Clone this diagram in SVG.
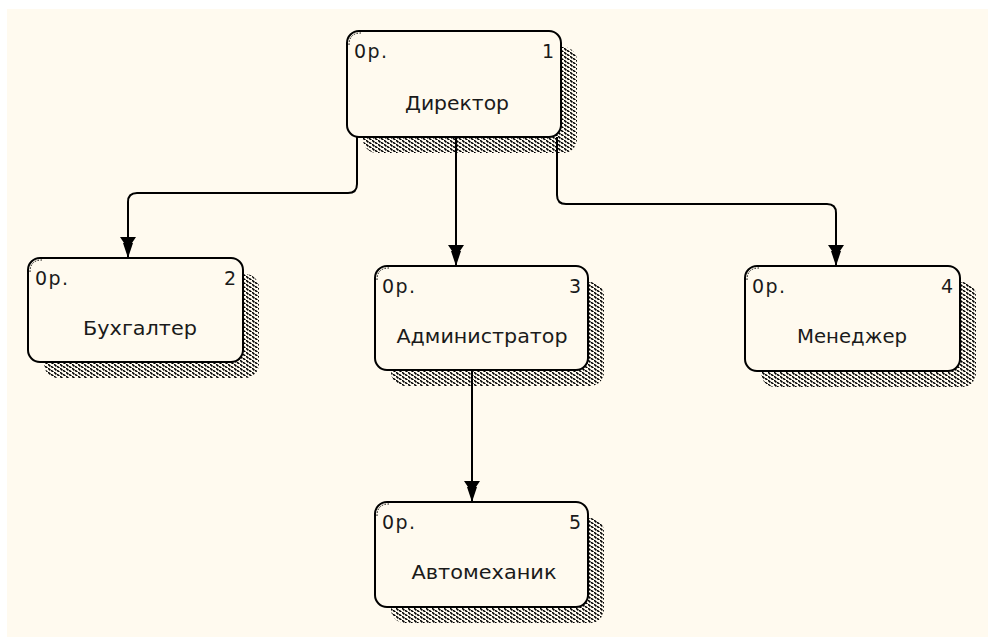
<svg xmlns="http://www.w3.org/2000/svg" width="988" height="638" viewBox="0 0 988 638">
  <style>
    .box { fill: #FFFAEF; stroke: #000; stroke-width: 2; }
    .shadow { fill: url(#hatch); }
    .tag { fill: none; stroke: #000; stroke-width: 1; stroke-dasharray: 1.5 1.5; }
    .lbl { font-family: "DejaVu Sans", "Liberation Sans", Arial, sans-serif; font-size: 19px; fill: #1a1a1a; }
    .name { text-anchor: middle; font-size: 20px; }
    .num { text-anchor: end; }
    .edge { fill: none; stroke: #000; stroke-width: 2; }
  </style>
  <defs>
    <!-- dotted hatch used for the drop shadows -->
    <pattern id="hatch" width="6" height="4" patternUnits="userSpaceOnUse">
      <rect x="0" y="0" width="1.6" height="1.6" fill="#000"/>
      <rect x="1" y="1" width="1.6" height="1.6" fill="#000"/>
      <rect x="3" y="2" width="1.6" height="1.6" fill="#000"/>
      <rect x="4" y="3" width="1.6" height="1.6" fill="#000"/>
    </pattern>
  </defs>

  <!-- canvas -->
  <rect x="7" y="9" width="981" height="628" fill="#FFFAEF"/>

  <!-- connectors -->
  <g id="connectors">
    <path class="edge" d="M357,137 V184 Q357,193 348,193 H137 Q128,193 128,202 V258"/>
    <path class="edge" d="M456,137 V266"/>
    <path class="edge" d="M557,137 V195 Q557,204 566,204 H827 Q836,204 836,213 V266"/>
    <path class="edge" d="M472,370 V502"/>
    <!-- arrowheads -->
    <path d="M120,237 L136,237 L132,243 L133,243 L128,258 L123,243 L124,243 Z" fill="#000"/>
    <path d="M448,245 L464,245 L460,251 L461,251 L456,266 L451,251 L452,251 Z" fill="#000"/>
    <path d="M828,245 L844,245 L840,251 L841,251 L836,266 L831,251 L832,251 Z" fill="#000"/>
    <path d="M464,481 L480,481 L476,487 L477,487 L472,502 L467,487 L468,487 Z" fill="#000"/>
  </g>

  <g id="node1">
    <rect class="shadow" x="363" y="47" width="214" height="106" rx="14"/>
    <rect class="box" x="347" y="31" width="214" height="106" rx="12"/>
    <path class="tag" d="M349,45 Q349,33 361,33"/>
    <text class="lbl" x="354" y="58" textLength="33" lengthAdjust="spacing">0р.</text>
    <text class="lbl num" x="554" y="58">1</text>
    <text class="lbl name" x="457" y="110" textLength="104" lengthAdjust="spacingAndGlyphs">Директор</text>
  </g>

  <g id="node2">
    <rect class="shadow" x="44" y="274" width="215" height="104" rx="14"/>
    <rect class="box" x="28" y="258" width="215" height="104" rx="12"/>
    <path class="tag" d="M30,272 Q30,260 42,260"/>
    <text class="lbl" x="35" y="285" textLength="33" lengthAdjust="spacing">0р.</text>
    <text class="lbl num" x="236" y="285">2</text>
    <text class="lbl name" x="140" y="335" textLength="114" lengthAdjust="spacingAndGlyphs">Бухгалтер</text>
  </g>

  <g id="node3">
    <rect class="shadow" x="391" y="282" width="213" height="104" rx="14"/>
    <rect class="box" x="375" y="266" width="213" height="104" rx="12"/>
    <path class="tag" d="M377,280 Q377,268 389,268"/>
    <text class="lbl" x="382" y="293" textLength="33" lengthAdjust="spacing">0р.</text>
    <text class="lbl num" x="581" y="293">3</text>
    <text class="lbl name" x="482" y="343" textLength="171" lengthAdjust="spacingAndGlyphs">Администратор</text>
  </g>

  <g id="node4">
    <rect class="shadow" x="761" y="282" width="215" height="105" rx="14"/>
    <rect class="box" x="745" y="266" width="215" height="105" rx="12"/>
    <path class="tag" d="M747,280 Q747,268 759,268"/>
    <text class="lbl" x="752" y="293" textLength="33" lengthAdjust="spacing">0р.</text>
    <text class="lbl num" x="953" y="293">4</text>
    <text class="lbl name" x="852" y="343" textLength="110" lengthAdjust="spacingAndGlyphs">Менеджер</text>
  </g>

  <g id="node5">
    <rect class="shadow" x="391" y="518" width="213" height="105" rx="14"/>
    <rect class="box" x="375" y="502" width="213" height="105" rx="12"/>
    <path class="tag" d="M377,516 Q377,504 389,504"/>
    <text class="lbl" x="382" y="529" textLength="33" lengthAdjust="spacing">0р.</text>
    <text class="lbl num" x="581" y="529">5</text>
    <text class="lbl name" x="484" y="579" textLength="145" lengthAdjust="spacingAndGlyphs">Автомеханик</text>
  </g>
</svg>
